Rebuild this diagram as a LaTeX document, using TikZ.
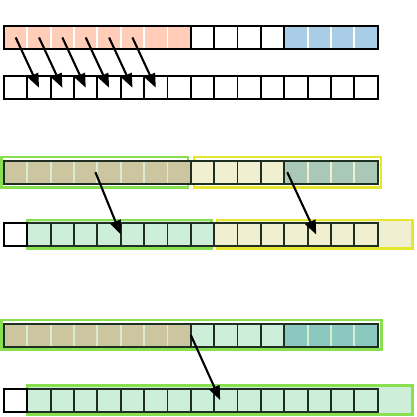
\documentclass[tikz,border=0pt]{standalone}
\usetikzlibrary{arrows.meta,calc}
\definecolor{salmon}{HTML}{FFCDB8}
\definecolor{lblue}{HTML}{A9CDE6}
\definecolor{tan}{HTML}{CBC6A0}
\definecolor{pyellow}{HTML}{F0EFCF}
\definecolor{ggreen}{HTML}{A9C8B8}
\definecolor{lgreen}{HTML}{CDEED8}
\definecolor{teal2}{HTML}{8BC8C0}
\definecolor{lime}{HTML}{88E050}
\definecolor{ybox}{HTML}{E6E62E}
\definecolor{sepc}{HTML}{D8ECD2}
\definecolor{dk}{HTML}{1E2E20}
\begin{document}
\begin{tikzpicture}[x=1pt,y=-1pt,
  cell/.style={minimum width=23.35pt,minimum height=23pt,inner sep=0pt,outer sep=0pt,line width=1.9pt},
  hl/.style={line width=2.3pt},
  rowline/.style={line width=2pt},
  arr/.style={line width=2.1pt,-{Triangle[length=14pt,width=11pt]}}]
\useasboundingbox[fill=white] (0,0) rectangle (416,417);

% ---------- row 1 ----------
\foreach \i in {1,...,8} \node[cell,fill=salmon,draw=white] (r1c\i) at ({4+(\i-0.5)*23.35},37.5) {};
\foreach \i in {13,...,16} \node[cell,fill=lblue,draw=white] (r1c\i) at ({4+(\i-0.5)*23.35},37.5) {};
\foreach \i in {9,...,12} \node[cell,draw=black] (r1c\i) at ({4+(\i-0.5)*23.35},37.5) {};
\draw[rowline] (r1c1.north west) rectangle (r1c16.south east);

% ---------- row 2 ----------
\foreach \i in {1,...,16} \node[cell,draw=black] (r2c\i) at ({4+(\i-0.5)*23.35},87.7) {};
\draw[rowline] (r2c1.north west) rectangle (r2c16.south east);

% ---------- row 3 ----------
\draw[hl,draw=lime] (1.5,157) rectangle (188,187.5);
\draw[hl,draw=ybox] (194,157) rectangle (381,187.5);
\foreach \i in {1,...,8} \node[cell,fill=tan,draw=sepc] (r3c\i) at ({4+(\i-0.5)*23.35},172.2) {};
\foreach \i in {13,...,16} \node[cell,fill=ggreen,draw=pyellow] (r3c\i) at ({4+(\i-0.5)*23.35},172.2) {};
\foreach \i in {9,...,12} \node[cell,fill=pyellow,draw=dk] (r3c\i) at ({4+(\i-0.5)*23.35},172.2) {};
\draw[rowline,draw=dk] (r3c1.north west) rectangle (r3c16.south east);

% ---------- row 4 ----------
\draw[hl,draw=lime,fill=lgreen] (27.5,220) rectangle (211.5,248.5);
\draw[hl,draw=ybox,fill=pyellow] (217,220) rectangle (412.5,248.5);
\node[cell,fill=white,draw=black] (r4c1) at ({4+0.5*23.35},234.5) {};
\foreach \i in {2,...,9} \node[cell,fill=lgreen,draw=dk] (r4c\i) at ({4+(\i-0.5)*23.35},234.5) {};
\foreach \i in {10,...,16} \node[cell,fill=pyellow,draw=dk] (r4c\i) at ({4+(\i-0.5)*23.35},234.5) {};
\draw[rowline,draw=dk] (r4c2.north west) rectangle (r4c16.south east);
\draw[rowline,draw=black] (r4c1.north west) rectangle (r4c1.south east);

% ---------- row 5 ----------
\draw[hl,draw=lime] (1.5,320) rectangle (381.5,349.5);
\foreach \i in {1,...,8} \node[cell,fill=tan,draw=sepc] (r5c\i) at ({4+(\i-0.5)*23.35},335) {};
\foreach \i in {13,...,16} \node[cell,fill=teal2,draw=sepc] (r5c\i) at ({4+(\i-0.5)*23.35},335) {};
\foreach \i in {9,...,12} \node[cell,fill=lgreen,draw=dk] (r5c\i) at ({4+(\i-0.5)*23.35},335) {};
\draw[rowline,draw=dk] (r5c1.north west) rectangle (r5c16.south east);

% ---------- row 6 ----------
\draw[hl,draw=lime,fill=lgreen] (27.5,385.5) rectangle (412.5,414.5);
\node[cell,fill=white,draw=black] (r6c1) at ({4+0.5*23.35},400) {};
\foreach \i in {2,...,16} \node[cell,fill=lgreen,draw=dk] (r6c\i) at ({4+(\i-0.5)*23.35},400) {};
\draw[rowline,draw=dk] (r6c2.north west) rectangle (r6c16.south east);
\draw[rowline,draw=black] (r6c1.north west) rectangle (r6c1.south east);

% ---------- arrows ----------
\foreach \i [evaluate=\i as \j using int(\i+1)] in {1,...,6}
  \draw[arr] (r1c\i.center) -- (r2c\j.center);
\draw[arr] ([xshift=-2pt]r3c4.east) -- (r4c5.east);
\draw[arr] ([xshift=3pt]r3c13.west) -- ([xshift=-3pt]r4c14.center);
\draw[arr] (r5c8.east) -- ([xshift=6pt]r6c10.west);
\end{tikzpicture}
\end{document}
